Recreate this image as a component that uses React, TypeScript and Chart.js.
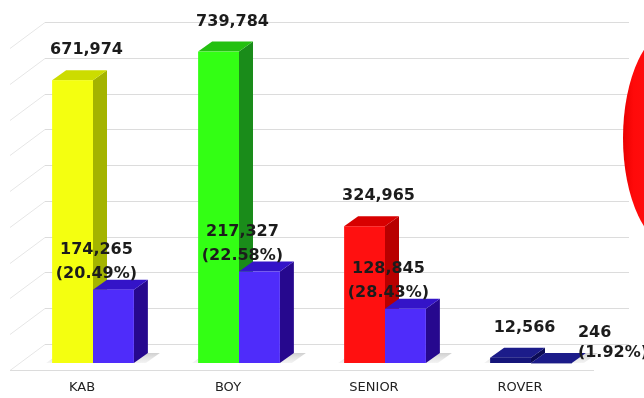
import { useEffect, useRef } from 'react';
import { Chart, registerables } from 'chart.js';

Chart.register(...registerables);

// ---- data ----
const categories = ['KAB', 'BOY', 'SENIOR', 'ROVER'];
const totalMembers = [671974, 739784, 324965, 12566];
const subMembers = [174265, 217327, 128845, 246];
const subPercent = [20.49, 22.58, 28.43, 1.92];
const yMax = 765000;
const yStep = 85000;

// ---- styles ----
const frontColors0 = ['#f4ff10', '#33ff14', '#ff1010', '#15157a'];
const topColors0 = ['#ccdc00', '#24c010', '#d80000', '#1c1c8a'];
const sideColors0 = ['#a4b400', '#1a8c1a', '#b80000', '#0c0c55'];
const frontColors1 = ['#4f2cfa', '#4f2cfa', '#4f2cfa', '#15157a'];
const topColors1 = ['#3414c8', '#3414c8', '#3414c8', '#1c1c8a'];
const sideColors1 = ['#26088e', '#26088e', '#26088e', '#0c0c55'];

const DX = 14;
const DY = -10;

function drawBar3D(ctx: CanvasRenderingContext2D, left: number, right: number, top: number, bottom: number, front: string, topC: string, side: string) {
  ctx.fillStyle = side;
  ctx.beginPath();
  ctx.moveTo(right, top);
  ctx.lineTo(right + DX, top + DY);
  ctx.lineTo(right + DX, bottom + DY);
  ctx.lineTo(right, bottom);
  ctx.closePath();
  ctx.fill();
  ctx.fillStyle = topC;
  ctx.beginPath();
  ctx.moveTo(left, top);
  ctx.lineTo(left + DX, top + DY);
  ctx.lineTo(right + DX, top + DY);
  ctx.lineTo(right, top);
  ctx.closePath();
  ctx.fill();
  ctx.fillStyle = front;
  ctx.fillRect(left, top, right - left, Math.max(bottom - top, 0.5));
}

const wallPlugin = {
  id: 'wall3d',
  beforeDatasetsDraw(chart: any) {
    const { ctx, chartArea, scales } = chart;
    const { left, right } = chartArea;
    const y = scales.y;
    const bx = 25, by = -19;
    ctx.save();
    ctx.lineWidth = 1;
    for (let v = 0; v <= yMax; v += yStep) {
      const py = Math.round(y.getPixelForValue(v) + by) + 0.5;
      ctx.strokeStyle = '#dcdcdc';
      ctx.beginPath();
      ctx.moveTo(left + bx, py);
      ctx.lineTo(right + bx, py);
      ctx.stroke();
      ctx.strokeStyle = '#e6e6e6';
      ctx.beginPath();
      ctx.moveTo(left + bx, py);
      ctx.lineTo(left + bx - 35, py + 26);
      ctx.stroke();
    }
    const base = y.getPixelForValue(0);
    const fy = Math.round(base + 7) + 0.5;
    ctx.strokeStyle = '#dcdcdc';
    ctx.beginPath();
    ctx.moveTo(left - 10, fy);
    ctx.lineTo(right - 10, fy);
    ctx.stroke();
    ctx.restore();
  },
  afterDatasetsDraw(chart: any) {
    const { ctx } = chart;
    const m0 = chart.getDatasetMeta(0).data;
    const m1 = chart.getDatasetMeta(1).data;
    ctx.save();
    // floor shadows
    for (let i = 0; i < categories.length; i++) {
      const b0 = m0[i];
      const b1 = m1[i];
      const l = b0.x - b0.width / 2;
      const r = b1.x + b1.width / 2;
      const base = b0.base;
      const g = ctx.createLinearGradient(0, base + DY, 0, base);
      g.addColorStop(0, 'rgba(150,150,150,0.45)');
      g.addColorStop(1, 'rgba(180,180,180,0.15)');
      ctx.fillStyle = g;
      ctx.beginPath();
      ctx.moveTo(l - 6, base);
      ctx.lineTo(l + DX - 6, base + DY);
      ctx.lineTo(r + DX + 12, base + DY);
      ctx.lineTo(r + 12, base);
      ctx.closePath();
      ctx.fill();
    }
    for (let i = 0; i < categories.length; i++) {
      const b0 = m0[i];
      const b1 = m1[i];
      drawBar3D(ctx, b0.x - b0.width / 2, b0.x + b0.width / 2, b0.y, b0.base, frontColors0[i], topColors0[i], sideColors0[i]);
      drawBar3D(ctx, b1.x - b1.width / 2, b1.x + b1.width / 2, b1.y, b1.base, frontColors1[i], topColors1[i], sideColors1[i]);
    }
    // labels
    ctx.fillStyle = '#1c1c1c';
    ctx.font = 'bold 16px "DejaVu Sans"';
    ctx.textBaseline = 'middle';
    for (let i = 0; i < categories.length; i++) {
      const b0 = m0[i];
      ctx.textAlign = 'center';
      ctx.fillText(totalMembers[i].toLocaleString('en-US'), b0.x + 14, b0.y - 30);
      const b1 = m1[i];
      const l1 = subMembers[i].toLocaleString('en-US');
      const l2 = '(' + subPercent[i].toFixed(2) + '%)';
      if (b1.base - b1.y < 10) {
        ctx.textAlign = 'left';
        const x = b1.x + b1.width / 2 + 6;
        ctx.fillText(l1, x, b1.base - 30);
        ctx.fillText(l2, x, b1.base - 10);
      } else {
        ctx.textAlign = 'center';
        ctx.fillText(l1, b1.x - 17, b1.y - 40);
        ctx.fillText(l2, b1.x - 17, b1.y - 16);
      }
    }
    ctx.restore();
  },
  afterDraw(chart: any) {
    const { ctx } = chart;
    ctx.save();
    const g = ctx.createLinearGradient(622, 0, 700, 0);
    g.addColorStop(0, '#e80000');
    g.addColorStop(0.15, '#ff0a0a');
    g.addColorStop(1, '#ff1a1a');
    ctx.fillStyle = g;
    ctx.beginPath();
    ctx.ellipse(675, 138, 52, 110, 0, 0, Math.PI * 2);
    ctx.fill();
    ctx.restore();
  },
};

export default function App() {
  const ref = useRef<HTMLCanvasElement>(null);
  useEffect(() => {
    document.body.style.margin = '0';
    const chart = new Chart(ref.current!, {
      type: 'bar',
      data: {
        labels: categories,
        datasets: [
          { label: 'Total', data: totalMembers, backgroundColor: 'rgba(0,0,0,0)', borderWidth: 0 },
          { label: 'Sub', data: subMembers, backgroundColor: 'rgba(0,0,0,0)', borderWidth: 0 },
        ],
      },
      options: {
        animation: false,
        responsive: true,
        maintainAspectRatio: false,
        layout: { padding: { left: 20, right: 40, top: 41, bottom: 0 } },
        datasets: { bar: { categoryPercentage: 0.56, barPercentage: 1.0 } },
        plugins: { legend: { display: false }, tooltip: { enabled: false } },
        scales: {
          x: {
            grid: { display: false, drawTicks: false },
            border: { display: false },
            ticks: {
              color: '#222',
              font: { family: '"DejaVu Sans"', size: 13 },
              padding: 17,
              labelOffset: -11,
            },
            afterFit: (s: any) => { s.height = 35; },
          },
          y: {
            min: 0,
            max: yMax,
            ticks: { display: false, stepSize: yStep },
            grid: { display: false, drawTicks: false },
            border: { display: false },
          },
        },
      },
      plugins: [wallPlugin],
    });
    return () => chart.destroy();
  }, []);
  return (
    <div style={{ position: 'fixed', left: 0, top: 0, width: 644, height: 398, background: '#fff' }}>
      <canvas ref={ref} />
    </div>
  );
}
